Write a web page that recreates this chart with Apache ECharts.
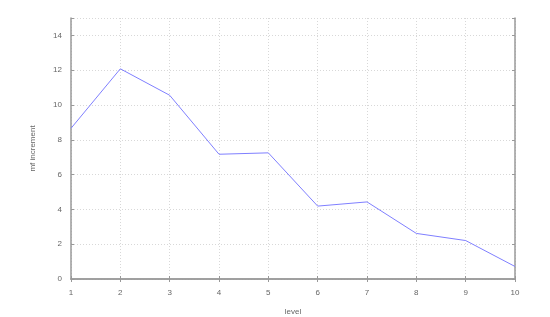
<!DOCTYPE html>
<html><head><meta charset="utf-8">
<script src="https://cdn.jsdelivr.net/npm/echarts@6/dist/echarts.min.js"></script>
<style>html,body{margin:0;padding:0;background:#fff}#c{width:550px;height:317px}</style>
</head><body><div id="c"></div>
<script>
const levels = [1, 2, 3, 4, 5, 6, 7, 8, 9, 10];
const mfIncrement = [8.66, 12.08, 10.56, 7.17, 7.25, 4.19, 4.43, 2.62, 2.21, 0.72];
const yTicks = [0, 2, 4, 6, 8, 10, 12, 14];

const chart = echarts.init(document.getElementById('c'), null, {renderer: 'canvas'});
const frame = {show: true, lineStyle: {color: '#9a9a9a', width: 1.5}};
const font = {color: '#666', fontSize: 8, fontFamily: 'Liberation Sans, Arial, sans-serif'};
chart.setOption({
  animation: false,
  grid: {left: 71, right: 35, top: 18, bottom: 38, containLabel: false, outerBoundsMode: 'none'},
  xAxis: [{
    type: 'value', min: 1, max: 10, interval: 1, position: 'bottom',
    name: 'level', nameLocation: 'middle', nameGap: 29,
    nameTextStyle: font,
    axisLine: frame,
    axisTick: {show: true, inside: true, length: 3, lineStyle: {color: '#999'}},
    axisLabel: Object.assign({margin: 10}, font),
    splitLine: {show: true, lineStyle: {color: '#d8d8d8', type: [1, 2], width: 1}}
  }, {
    type: 'value', min: 1, max: 10, interval: 1, position: 'top',
    axisLine: frame,
    axisTick: {show: true, inside: true, length: 3, lineStyle: {color: '#999'}},
    axisLabel: {show: false}, splitLine: {show: false}
  }],
  yAxis: [{
    type: 'value', min: 0, max: 15, interval: 2, position: 'left',
    name: 'mf increment', nameLocation: 'middle', nameGap: 34, nameRotate: 90,
    nameTextStyle: font,
    axisLine: frame,
    axisTick: {show: true, inside: true, length: 3, lineStyle: {color: '#999'}},
    axisLabel: Object.assign({margin: 9, formatter: v => yTicks.includes(v) ? String(v) : ''}, font),
    splitLine: {show: true, lineStyle: {color: '#d8d8d8', type: [1, 2], width: 1}}
  }, {
    type: 'value', min: 0, max: 15, interval: 2, position: 'right',
    axisLine: frame,
    axisTick: {show: true, inside: true, length: 3, lineStyle: {color: '#999'}},
    axisLabel: {show: false}, splitLine: {show: false}
  }],
  series: [{
    type: 'line', xAxisIndex: 0, yAxisIndex: 0,
    data: levels.map((l, i) => [l, mfIncrement[i]]),
    showSymbol: false, symbol: 'none',
    lineStyle: {color: '#7f7fff', width: 1}
  }]
});
</script></body></html>
